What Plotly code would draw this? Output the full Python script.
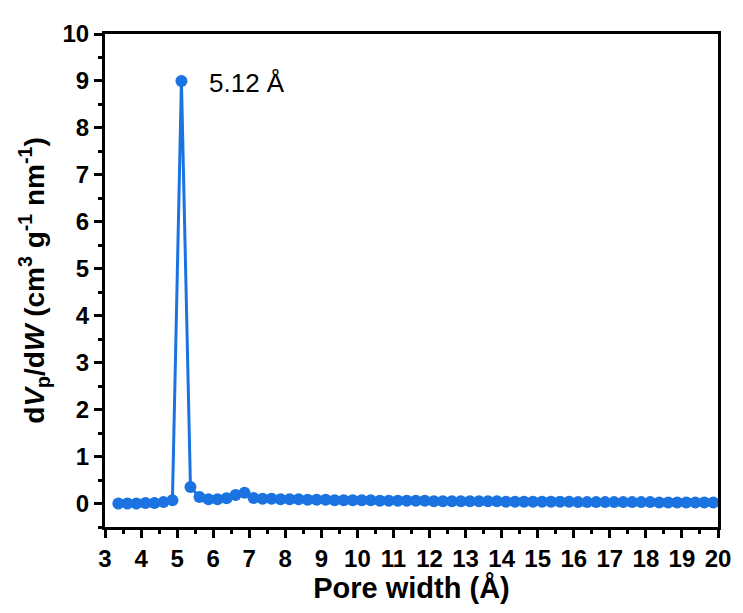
import plotly.graph_objects as go

pore_width = [3.37, 3.62, 3.87, 4.12, 4.37, 4.62, 4.87, 5.12, 5.37, 5.62,
              5.87, 6.12, 6.37, 6.62, 6.87, 7.12, 7.37, 7.62, 7.87, 8.12,
              8.37, 8.62, 8.87, 9.12, 9.37, 9.62, 9.87, 10.12, 10.37, 10.62,
              10.87, 11.12, 11.37, 11.62, 11.87, 12.12, 12.37, 12.62, 12.87, 13.12,
              13.37, 13.62, 13.87, 14.12, 14.37, 14.62, 14.87, 15.12, 15.37, 15.62,
              15.87, 16.12, 16.37, 16.62, 16.87, 17.12, 17.37, 17.62, 17.87, 18.12,
              18.37, 18.62, 18.87, 19.12, 19.37, 19.62, 19.87]
dvdw = [0.00, 0.00, 0.00, 0.01, 0.01, 0.03, 0.07, 9.00, 0.35, 0.14,
        0.09, 0.09, 0.11, 0.18, 0.23, 0.12, 0.10, 0.10, 0.09, 0.09,
        0.09, 0.08, 0.08, 0.08, 0.07, 0.07, 0.07, 0.07, 0.07, 0.06,
        0.06, 0.06, 0.06, 0.06, 0.06, 0.05, 0.05, 0.05, 0.05, 0.05,
        0.05, 0.05, 0.05, 0.04, 0.04, 0.04, 0.04, 0.04, 0.04, 0.04,
        0.04, 0.03, 0.03, 0.03, 0.03, 0.03, 0.03, 0.03, 0.03, 0.03,
        0.02, 0.02, 0.02, 0.02, 0.02, 0.02, 0.02]
x_ticks = list(range(3, 21))
y_ticks = list(range(0, 11))

blue = "rgb(26,115,224)"
font_family = "Liberation Sans, Arial, sans-serif"

fig = go.Figure()
fig.add_trace(go.Scatter(
    x=pore_width, y=dvdw, mode="lines+markers",
    line=dict(color=blue, width=3),
    marker=dict(color=blue, size=12, line=dict(width=0)),
    showlegend=False,
))

fig.add_annotation(
    x=5.12, y=9.0, text="5.12 Å", showarrow=False,
    xanchor="left", yanchor="middle", xshift=26, yshift=-2,
    font=dict(family=font_family, size=26, color="black"),
)

axis_common = dict(
    showgrid=False, zeroline=False, showline=True, linecolor="black",
    linewidth=3, mirror=True, ticks="outside", ticklen=8, tickwidth=2.5,
    tickcolor="black",
    tickfont=dict(family=font_family, size=24, color="black", weight="bold"),
)

fig.update_xaxes(
    range=[3, 20], tickvals=x_ticks, ticktext=[str(v) for v in x_ticks],
    minor=dict(ticks="outside", ticklen=4, tickwidth=2.5, tickcolor="black", dtick=0.5, tick0=3),
    title=dict(text="Pore width (Å)", font=dict(family=font_family, size=29, color="black", weight="bold"), standoff=4),
    **axis_common,
)
fig.update_yaxes(
    range=[-0.5, 10], tickvals=y_ticks, ticktext=[str(v) for v in y_ticks],
    minor=dict(ticks="outside", ticklen=4, tickwidth=2.5, tickcolor="black", dtick=0.5, tick0=0),
    title=dict(text="d<i>V</i><sub>p</sub>/d<i>W</i> (cm<sup>3</sup> g<sup>-1</sup> nm<sup>-1</sup>)",
               font=dict(family=font_family, size=28, color="black", weight="bold"), standoff=10),
    **axis_common,
)

# page body has an 8px margin, so shrink the figure by that amount
fig.update_layout(
    width=735, height=605,
    margin=dict(l=97, r=19, t=20, b=86),
    plot_bgcolor="white", paper_bgcolor="white",
)

fig.write_html("out.html")
